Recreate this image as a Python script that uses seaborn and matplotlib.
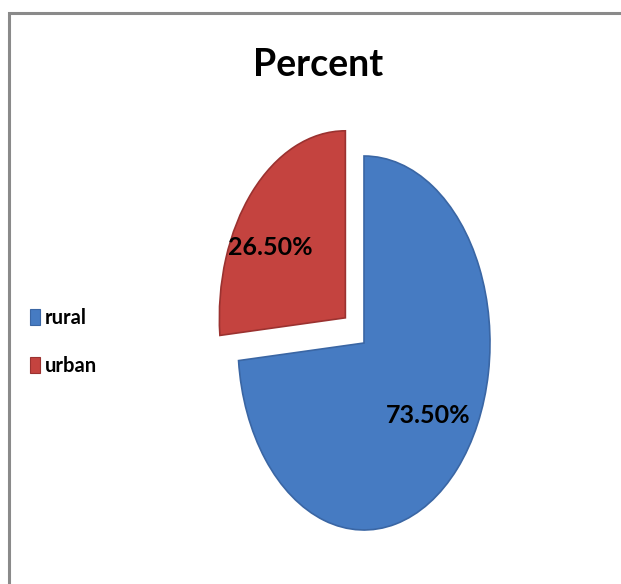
import matplotlib
matplotlib.use("Agg")
import matplotlib.pyplot as plt
from matplotlib.patches import Rectangle, Patch
import seaborn as sns

categories = ["rural", "urban"]
percent = [73.50, 26.50]
colors = ["#467bc2", "#c4433f"]
edges = ["#3a66a4", "#9b3230"]

sns.set_theme(style="white")
plt.rcParams["font.family"] = ["Lato", "DejaVu Sans"]

W, H = 621, 584
fig = plt.figure(figsize=(W / 100, H / 100), dpi=100)
fig.patch.set_facecolor("white")

# chart frame
fig.patches.append(Rectangle((9 / W, -0.05), 1.2, 1 - 13 / H + 0.05,
                             transform=fig.transFigure, fill=False,
                             edgecolor="#8a8a8a", linewidth=2.2))

# pie axes: unit radius maps to 126 px horizontally, 187 px vertically
cx, cy, rx, ry = 364, 343, 126, 187
left_px, right_px, top_px, bot_px = 150, 540, 100, 560
ax = fig.add_axes([left_px / W, (H - bot_px) / H,
                   (right_px - left_px) / W, (bot_px - top_px) / H])
wedges, _ = ax.pie(percent, colors=colors, startangle=90, counterclock=False,
                   explode=[0, 0.2],
                   wedgeprops=dict(linewidth=1.2))
for w, e in zip(wedges, edges):
    w.set_edgecolor(e)
ax.set_aspect("auto")
ax.set_xlim((left_px - cx) / rx, (right_px - cx) / rx)
ax.set_ylim((cy - bot_px) / ry, (cy - top_px) / ry)
ax.axis("off")

label_pos = [(0.51, -0.39), (-0.745, 0.51)]
for val, (x, y) in zip(percent, label_pos):
    ax.text(x, y, f"{val:.2f}%", ha="center", va="center",
            fontsize=18, fontweight="bold", color="black")

fig.text(318 / W, 1 - 65 / H, "Percent", ha="center", va="center",
         fontsize=27, fontweight="bold", color="black")

handles = [Patch(facecolor=c, edgecolor=e, linewidth=0.8)
           for c, e in zip(colors, edges)]
fig.legend(handles, categories, loc="center left",
           bbox_to_anchor=(12 / W, 1 - 342 / H), frameon=False,
           prop=dict(size=14.5, weight="bold"), labelcolor="black",
           handlelength=0.5, handleheight=0.8, handletextpad=0.25,
           labelspacing=1.4)

fig.savefig("out.png", dpi=100, facecolor="white")
